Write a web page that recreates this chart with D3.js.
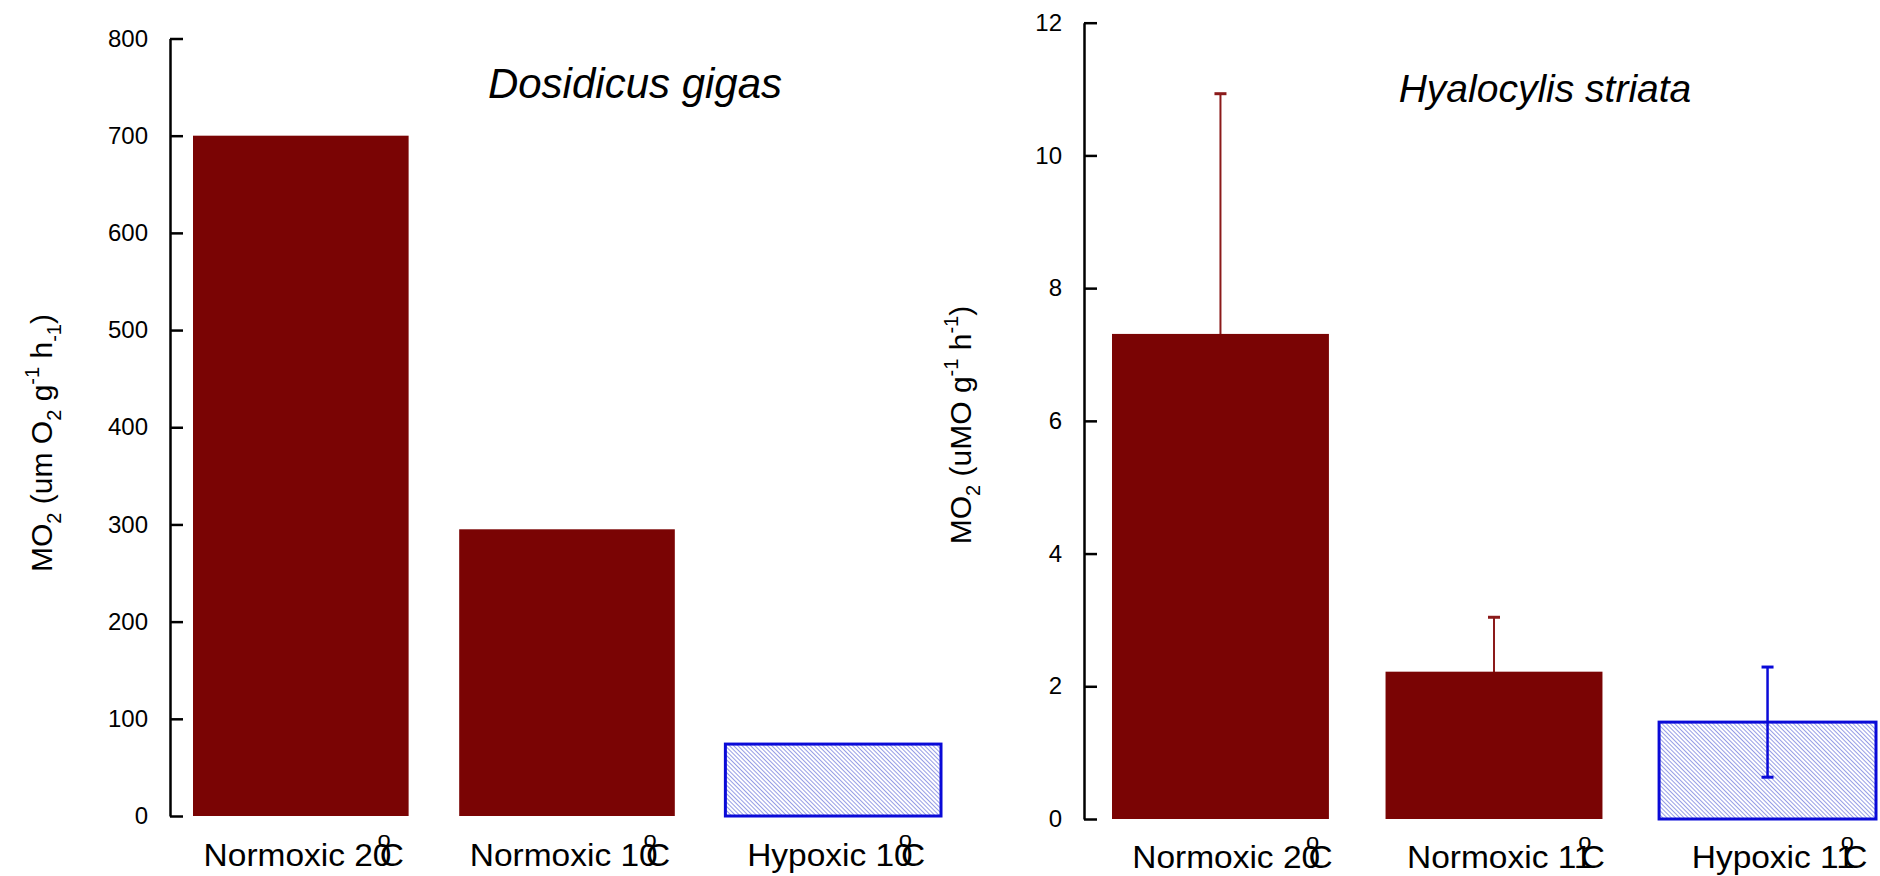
<!DOCTYPE html>
<html>
<head>
<meta charset="utf-8">
<script src="https://cdn.jsdelivr.net/npm/d3@7"></script>
<style>
  body { margin: 0; background: #fff; }
  svg { display: block; font-family: "Liberation Sans", Arial, sans-serif; }
  .axis path, .axis line { stroke: #000; stroke-width: 2.5; }
  .axis text { font-size: 24px; fill: #000; }
</style>
</head>
<body>
<svg id="chart" width="1880" height="876"></svg>
<script>
// Dosidicus gigas panel
const leftCategories = ['Normoxic 20', 'Normoxic 10', 'Hypoxic 10'];
const leftValues = [700, 295, 74];
const leftTicks = [0, 100, 200, 300, 400, 500, 600, 700, 800];

// Hyalocylis striata panel
const rightCategories = ['Normoxic 20', 'Normoxic 11', 'Hypoxic 11'];
const rightValues = [7.31, 2.22, 1.46];
const rightErrors = [3.62, 0.82, 0.83];
const rightTicks = [0, 2, 4, 6, 8, 10, 12];

const RED = '#7a0404';
const RED_ERR = '#8b1a1a';
const BLUE = '#0a0ad8';

const svg = d3.select('#chart');

// hatch pattern for hypoxic bars
const defs = svg.append('defs');
const pat = defs.append('pattern')
  .attr('id', 'hatch')
  .attr('patternUnits', 'userSpaceOnUse')
  .attr('width', 3)
  .attr('height', 3)
  .attr('patternTransform', 'rotate(-45)');
pat.append('rect').attr('width', 3).attr('height', 3).attr('fill', '#fff');
pat.append('line')
  .attr('x1', 0.5).attr('y1', 0).attr('x2', 0.5).attr('y2', 3)
  .attr('stroke', '#8a92e2').attr('stroke-width', 0.9);

function drawPanel(cfg) {
  const g = svg.append('g');

  const y = d3.scaleLinear().domain(cfg.yDomain).range(cfg.yRange);
  const x = d3.scaleBand()
    .domain(cfg.categories)
    .range(cfg.xRange)
    .paddingInner(cfg.padding)
    .paddingOuter(0);

  const data = cfg.categories.map((c, i) => ({
    cat: c,
    value: cfg.values[i],
    err: cfg.errors ? cfg.errors[i] : null,
    hypoxic: c.startsWith('Hypoxic')
  }));

  // axis, ticks pointing inward
  g.append('g')
    .attr('class', 'axis')
    .attr('transform', `translate(${cfg.axisX},0)`)
    .call(d3.axisLeft(y)
      .tickValues(cfg.ticks)
      .tickSizeInner(-13)
      .tickSizeOuter(0)
      .tickPadding(22)
      .tickFormat(d3.format('d')))
    .call(a => a.selectAll('text').attr('font-family', '"Liberation Sans", Arial, sans-serif'));

  // hatched bars first so error bars sit on top
  g.selectAll('rect.hyp')
    .data(data.filter(d => d.hypoxic))
    .join('rect')
    .attr('class', 'hyp')
    .attr('x', d => x(d.cat))
    .attr('y', d => y(d.value))
    .attr('width', x.bandwidth())
    .attr('height', d => y(0) - y(d.value))
    .attr('fill', 'url(#hatch)')
    .attr('stroke', BLUE)
    .attr('stroke-width', 3);

  // error bars
  const errData = data.filter(d => d.err != null);
  const eg = g.selectAll('g.err').data(errData).join('g').attr('class', 'err');
  eg.append('line')
    .attr('x1', d => x(d.cat) + x.bandwidth() / 2)
    .attr('x2', d => x(d.cat) + x.bandwidth() / 2)
    .attr('y1', d => y(d.value - d.err))
    .attr('y2', d => y(d.value + d.err))
    .attr('stroke', d => d.hypoxic ? BLUE : RED_ERR)
    .attr('stroke-width', d => d.hypoxic ? 2.5 : 2);
  ['top', 'bottom'].forEach(side => {
    eg.append('line')
      .attr('x1', d => x(d.cat) + x.bandwidth() / 2 - 6)
      .attr('x2', d => x(d.cat) + x.bandwidth() / 2 + 6)
      .attr('y1', d => y(side === 'top' ? d.value + d.err : d.value - d.err))
      .attr('y2', d => y(side === 'top' ? d.value + d.err : d.value - d.err))
      .attr('stroke', d => d.hypoxic ? BLUE : RED_ERR)
      .attr('stroke-width', 3);
  });

  // solid bars cover the lower half of their error bars
  g.selectAll('rect.norm')
    .data(data.filter(d => !d.hypoxic))
    .join('rect')
    .attr('class', 'norm')
    .attr('x', d => x(d.cat))
    .attr('y', d => y(d.value))
    .attr('width', x.bandwidth())
    .attr('height', d => y(0) - y(d.value))
    .attr('fill', RED);

  // category labels, with the overlapping degree sign
  const lab = g.selectAll('g.lab')
    .data(data)
    .join('g')
    .attr('class', 'lab')
    .attr('transform', d => `translate(${x(d.cat) + x.bandwidth() / 2 + cfg.labelShift},${cfg.labelY}) scale(1.08,1)`)
    .append('text')
    .attr('text-anchor', 'middle')
    .attr('font-size', '31px')
    .attr('fill', '#000');
  lab.append('tspan').text(d => d.cat);
  lab.append('tspan').attr('font-size', '22px').attr('dx', -13).attr('dy', -19).text('o');
  lab.append('tspan').attr('dx', -10).attr('dy', 19).text('C');

  // title
  g.append('text')
    .attr('x', cfg.titleX)
    .attr('y', cfg.titleY)
    .attr('text-anchor', 'middle')
    .attr('font-style', 'italic')
    .attr('font-size', cfg.titleSize)
    .attr('fill', '#000')
    .text(cfg.title);

  // y axis title
  const yt = g.append('text')
    .attr('transform', `translate(${cfg.yTitleX},${cfg.yTitleY}) rotate(-90)`)
    .attr('text-anchor', 'middle')
    .attr('font-size', '30px')
    .attr('fill', '#000');
  cfg.yTitle.forEach(p => {
    const t = yt.append('tspan').text(p.t);
    if (p.sub) t.attr('font-size', '20px').attr('dy', 9);
    if (p.sup) t.attr('font-size', '20px').attr('dy', -13);
    if (p.back) t.attr('dy', p.back);
  });
}

drawPanel({
  categories: leftCategories,
  values: leftValues,
  ticks: leftTicks,
  yDomain: [0, 800],
  yRange: [816, 38.5],
  xRange: [193, 941],
  padding: 0.19,
  axisX: 170,
  labelY: 866,
  labelShift: 3,
  title: 'Dosidicus gigas',
  titleX: 635,
  titleY: 98,
  titleSize: '42px',
  yTitleX: 52,
  yTitleY: 443,
  yTitle: [
    { t: 'MO' }, { t: '2', sub: true }, { t: ' (um O', back: -9 }, { t: '2', sub: true },
    { t: ' g', back: -9 }, { t: '-1', sup: true }, { t: ' h', back: 13 }, { t: '-1', sub: true }, { t: ')', back: -9 }
  ]
});

drawPanel({
  categories: rightCategories,
  values: rightValues,
  errors: rightErrors,
  ticks: rightTicks,
  yDomain: [0, 12],
  yRange: [819, 22.7],
  xRange: [1112, 1876],
  padding: 0.207,
  axisX: 1084,
  labelY: 868,
  labelShift: 12,
  title: 'Hyalocylis striata',
  titleX: 1545,
  titleY: 102,
  titleSize: '39px',
  yTitleX: 971,
  yTitleY: 425,
  yTitle: [
    { t: 'MO' }, { t: '2', sub: true }, { t: ' (uMO g', back: -9 }, { t: '-1', sup: true },
    { t: ' h', back: 13 }, { t: '-1', sup: true }, { t: ')', back: 13 }
  ]
});
</script>
</body>
</html>
